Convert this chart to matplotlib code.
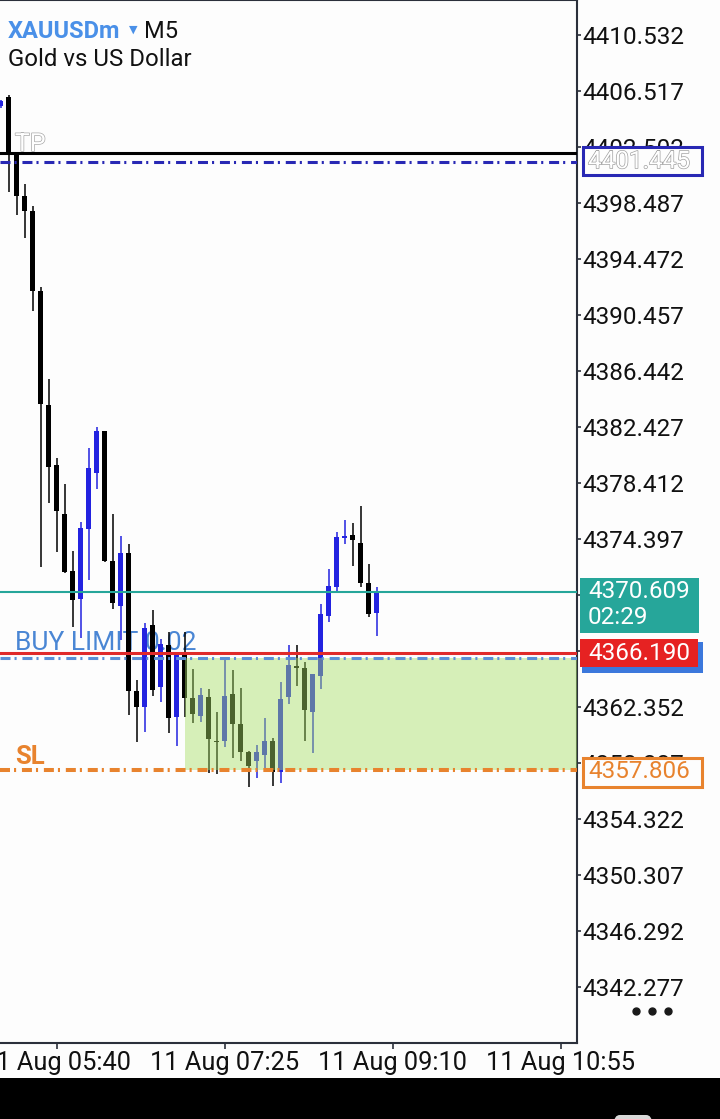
import matplotlib
matplotlib.use("Agg")
import matplotlib.pyplot as plt
import matplotlib.patheffects as pe
from matplotlib.patches import Rectangle, FancyBboxPatch
from matplotlib.lines import Line2D

plt.rcParams['font.family'] = ['Roboto', 'DejaVu Sans']
plt.rcParams['lines.scale_dashes'] = False

# XAUUSDm M5, bar 0 = 11 Aug 05:05 (cut at the left edge)
opens = [4405.44, 4406.09, 4402.07, 4398.99, 4397.91, 4392.18, 4384.01, 4379.70,
         4376.19, 4372.10, 4370.10, 4375.11, 4379.13, 4382.14, 4372.82, 4369.59,
         4373.39, 4363.50, 4362.35, 4368.23, 4363.79, 4366.80, 4361.64, 4366.08,
         4363.00, 4361.71, 4363.07, 4359.88, 4359.92, 4363.28, 4361.13, 4359.13,
         4358.48, 4358.91, 4359.92, 4357.69, 4363.07, 4365.26, 4365.15, 4361.99,
         4364.58, 4368.88, 4370.96, 4374.47, 4374.68, 4374.11, 4371.24, 4369.09]
highs = [4405.90, 4406.23, 4402.14, 4399.85, 4398.27, 4392.47, 4385.87, 4380.21,
         4378.34, 4373.54, 4375.62, 4380.92, 4382.43, 4382.14, 4376.19, 4374.61,
         4374.04, 4364.29, 4368.38, 4369.31, 4367.23, 4367.73, 4366.08, 4367.73,
         4365.08, 4363.72, 4363.64, 4361.99, 4365.94, 4365.01, 4363.72, 4359.20,
         4359.63, 4361.56, 4360.13, 4364.15, 4366.80, 4366.80, 4365.58, 4364.72,
         4369.74, 4372.25, 4374.90, 4375.76, 4375.55, 4376.76, 4372.61, 4370.96]
lows = [4405.30, 4399.28, 4397.63, 4395.98, 4390.74, 4372.39, 4376.98, 4373.47,
        4371.96, 4368.09, 4367.30, 4371.46, 4377.98, 4372.75, 4369.38, 4367.16,
        4361.78, 4359.84, 4360.56, 4363.14, 4362.71, 4360.49, 4359.56, 4361.64,
        4361.21, 4361.28, 4357.62, 4357.55, 4359.49, 4358.70, 4358.48, 4356.62,
        4357.26, 4357.69, 4356.69, 4356.90, 4362.57, 4363.86, 4359.92, 4359.06,
        4363.64, 4368.45, 4370.67, 4374.04, 4372.46, 4370.96, 4368.81, 4367.44]
closes = [4405.80, 4402.07, 4398.99, 4397.91, 4392.18, 4384.08, 4379.56, 4376.41,
          4372.03, 4370.02, 4375.19, 4379.49, 4382.14, 4372.82, 4369.81, 4373.39,
          4363.50, 4362.35, 4368.02, 4363.57, 4366.87, 4361.56, 4366.08, 4363.00,
          4361.85, 4363.21, 4360.06, 4359.81, 4363.14, 4361.13, 4359.13, 4358.12,
          4359.13, 4359.92, 4357.69, 4362.93, 4365.36, 4365.18, 4362.14, 4364.72,
          4369.02, 4371.03, 4374.54, 4374.61, 4374.33, 4371.24, 4369.02, 4370.609]

price_ticks = [4410.532, 4406.517, 4402.502, 4398.487, 4394.472, 4390.457,
               4386.442, 4382.427, 4378.412, 4374.397, 4370.382, 4366.367,
               4362.352, 4358.337, 4354.322, 4350.307, 4346.292, 4342.277]
time_ticks = [7, 28, 49, 70]
time_labels = ["11 Aug 05:40", "11 Aug 07:25", "11 Aug 09:10", "11 Aug 10:55"]

tp_line = 4402.07
tp_price = 4401.445
bid = 4370.609
red_price = 4366.190
limit_price = 4365.86
sl_price = 4357.806
zone_start = 23
timer = "02:29"

W, H = 720, 1119
fig = plt.figure(figsize=(W / 100, H / 100), dpi=100)
fig.patch.set_facecolor('#fdfdfd')
ax = fig.add_axes([0, 76 / H, 577 / W, 1043 / H])
ax.set_facecolor('#fdfdfd')
ax.set_xlim(-0.0625, 72.0625)
ax.set_ylim(4338.263, 4413.041)
px = (4413.041 - 4338.263) / 1043  # price per pixel

bull_col = '#2323e0'
bear_col = '#000000'
xs = list(range(len(opens)))
cols = [bull_col if c > o else bear_col for o, c in zip(opens, closes)]
ax.vlines(xs, lows, highs, colors=cols, lw=1.1, zorder=2)
bottoms = [min(o, c) for o, c in zip(opens, closes)]
heights = [max(abs(c - o), 0.12) for o, c in zip(opens, closes)]
ax.bar(xs, heights, bottom=bottoms, width=0.625, color=cols, lw=0, zorder=2)

# SL zone drawn on top of the candles
ax.add_patch(Rectangle((zone_start, sl_price), 80, limit_price - sl_price,
                       fc=(167 / 255, 222 / 255, 100 / 255), alpha=0.45, lw=0, zorder=3))

dashdot = (0, (7.2, 2.9, 1.5, 4.2))
ax.axhline(tp_line, color='black', lw=2.2, zorder=4)
ax.axhline(tp_price, color='#2828b4', lw=2.2, ls=dashdot, dash_capstyle='butt', zorder=4)
ax.axhline(bid, color='#26a69a', lw=1.5, zorder=4)
ax.axhline(limit_price, color='#5b8fd6', lw=2.2, ls=dashdot, dash_capstyle='butt', zorder=4)
ax.axhline(red_price, color='#e02a2a', lw=2.2, zorder=4)
ax.axhline(sl_price, color='#e8832e', lw=2.9, ls=dashdot, dash_capstyle='butt', zorder=4)

ax.text(1.8, tp_line + 2 * px, "TP", fontsize=18, color='white', va='baseline', zorder=5,
        path_effects=[pe.withStroke(linewidth=1.0, foreground='#a8a8a8')])
ax.text(1.8, red_price + 3 * px, "BUY LIMIT 0.02", fontsize=19, color='#4a86d4',
        va='baseline', zorder=1)
ax.text(1.8, sl_price + 6 * px, "SL", fontsize=18.5, color='#e8832e', weight='bold',
        va='baseline', zorder=5)

# axes look
ax.spines['left'].set_visible(False)
for s in ['right', 'bottom', 'top']:
    ax.spines[s].set_color('#2b303b')
    ax.spines[s].set_linewidth(1.5)
ax.yaxis.tick_right()
ax.set_yticks(price_ticks)
ax.set_yticklabels([f"{p:.3f}" for p in price_ticks])
ax.tick_params(axis='y', direction='out', length=3, width=1.2, pad=1,
               labelsize=17.5, colors='#2b303b', labelcolor='#111111')
ax.set_xticks(time_ticks)
ax.set_xticklabels(time_labels)
ax.tick_params(axis='x', direction='out', length=4, width=1.2, pad=2,
               labelsize=18.3, colors='#2b303b', labelcolor='#111111')


def ypix(price):
    return ax.transData.transform((0, price))[1]


def price_box(price, above, below, x0, x1, fc, ec='none', lw=0):
    yc = ypix(price)
    fig.add_artist(Rectangle((x0 / W, (yc - below) / H), (x1 - x0) / W, (above + below) / H,
                             transform=fig.transFigure, fc=fc, ec=ec, lw=lw, zorder=5))


# TP label
price_box(tp_price, 14.5, 13.5, 583, 702, '#fdfdfd', '#2828b4', 2.2)
fig.text(588 / W, ypix(tp_price) / H, f"{tp_price:.3f}", fontsize=17.5, color='white',
         va='center', zorder=6, path_effects=[pe.withStroke(linewidth=1.0, foreground='#a0a0a0')])
# bid label with timer
price_box(bid, 13.8, 41.2, 580, 699, '#26a69a')
fig.text(588 / W, ypix(bid) / H, f"{bid:.3f}", fontsize=17.5, color='white', va='center', zorder=6)
fig.text(588 / W, (ypix(bid) - 26) / H, timer, fontsize=17.5, color='white', va='center', zorder=6)
# order label
price_box(red_price, 11.5, 19.5, 582, 703, '#3c78dc')
price_box(red_price, 14.5, 13.5, 580, 698, '#e62222')
fig.text(588 / W, ypix(red_price) / H, f"{red_price:.3f}", fontsize=17.5, color='white',
         va='center', zorder=6)
# SL label
price_box(sl_price, 12.5, 16.5, 583, 702, '#fdfdfd', '#e8832e', 2.2)
fig.text(588 / W, (ypix(sl_price) - 1.5) / H, f"{sl_price:.3f}", fontsize=17.5, color='#e8832e',
         va='center', zorder=6)

# header
fig.text(8 / W, 1 - 31 / H, "XAUUSDm", fontsize=17, weight='bold', color='#4a90e8', va='center')
fig.text(129 / W, 1 - 30 / H, "\u25bc", fontsize=8, color='#4a90e8', va='center')
fig.text(144 / W, 1 - 31 / H, "M5", fontsize=17, color='#111111', va='center')
fig.text(8 / W, 1 - 59 / H, "Gold vs US Dollar", fontsize=17.3, color='#111111', va='center')

# menu dots and phone nav bar
fig.add_artist(Line2D([636 / W, 652 / W, 668 / W], [1 - 1011 / H] * 3, ls='none', marker='o',
                      ms=5, color='#1a1a1a', transform=fig.transFigure))
fig.add_artist(Rectangle((0, 0), 1, 41 / H, transform=fig.transFigure, fc='black', lw=0))
fig.add_artist(FancyBboxPatch((614 / W, -10 / H), 38 / W, 14 / H, boxstyle='round,pad=0,rounding_size=0.008',
                              transform=fig.transFigure, fc='#d8d8d8', lw=0))

fig.savefig("out.png", dpi=100, facecolor=fig.get_facecolor())
